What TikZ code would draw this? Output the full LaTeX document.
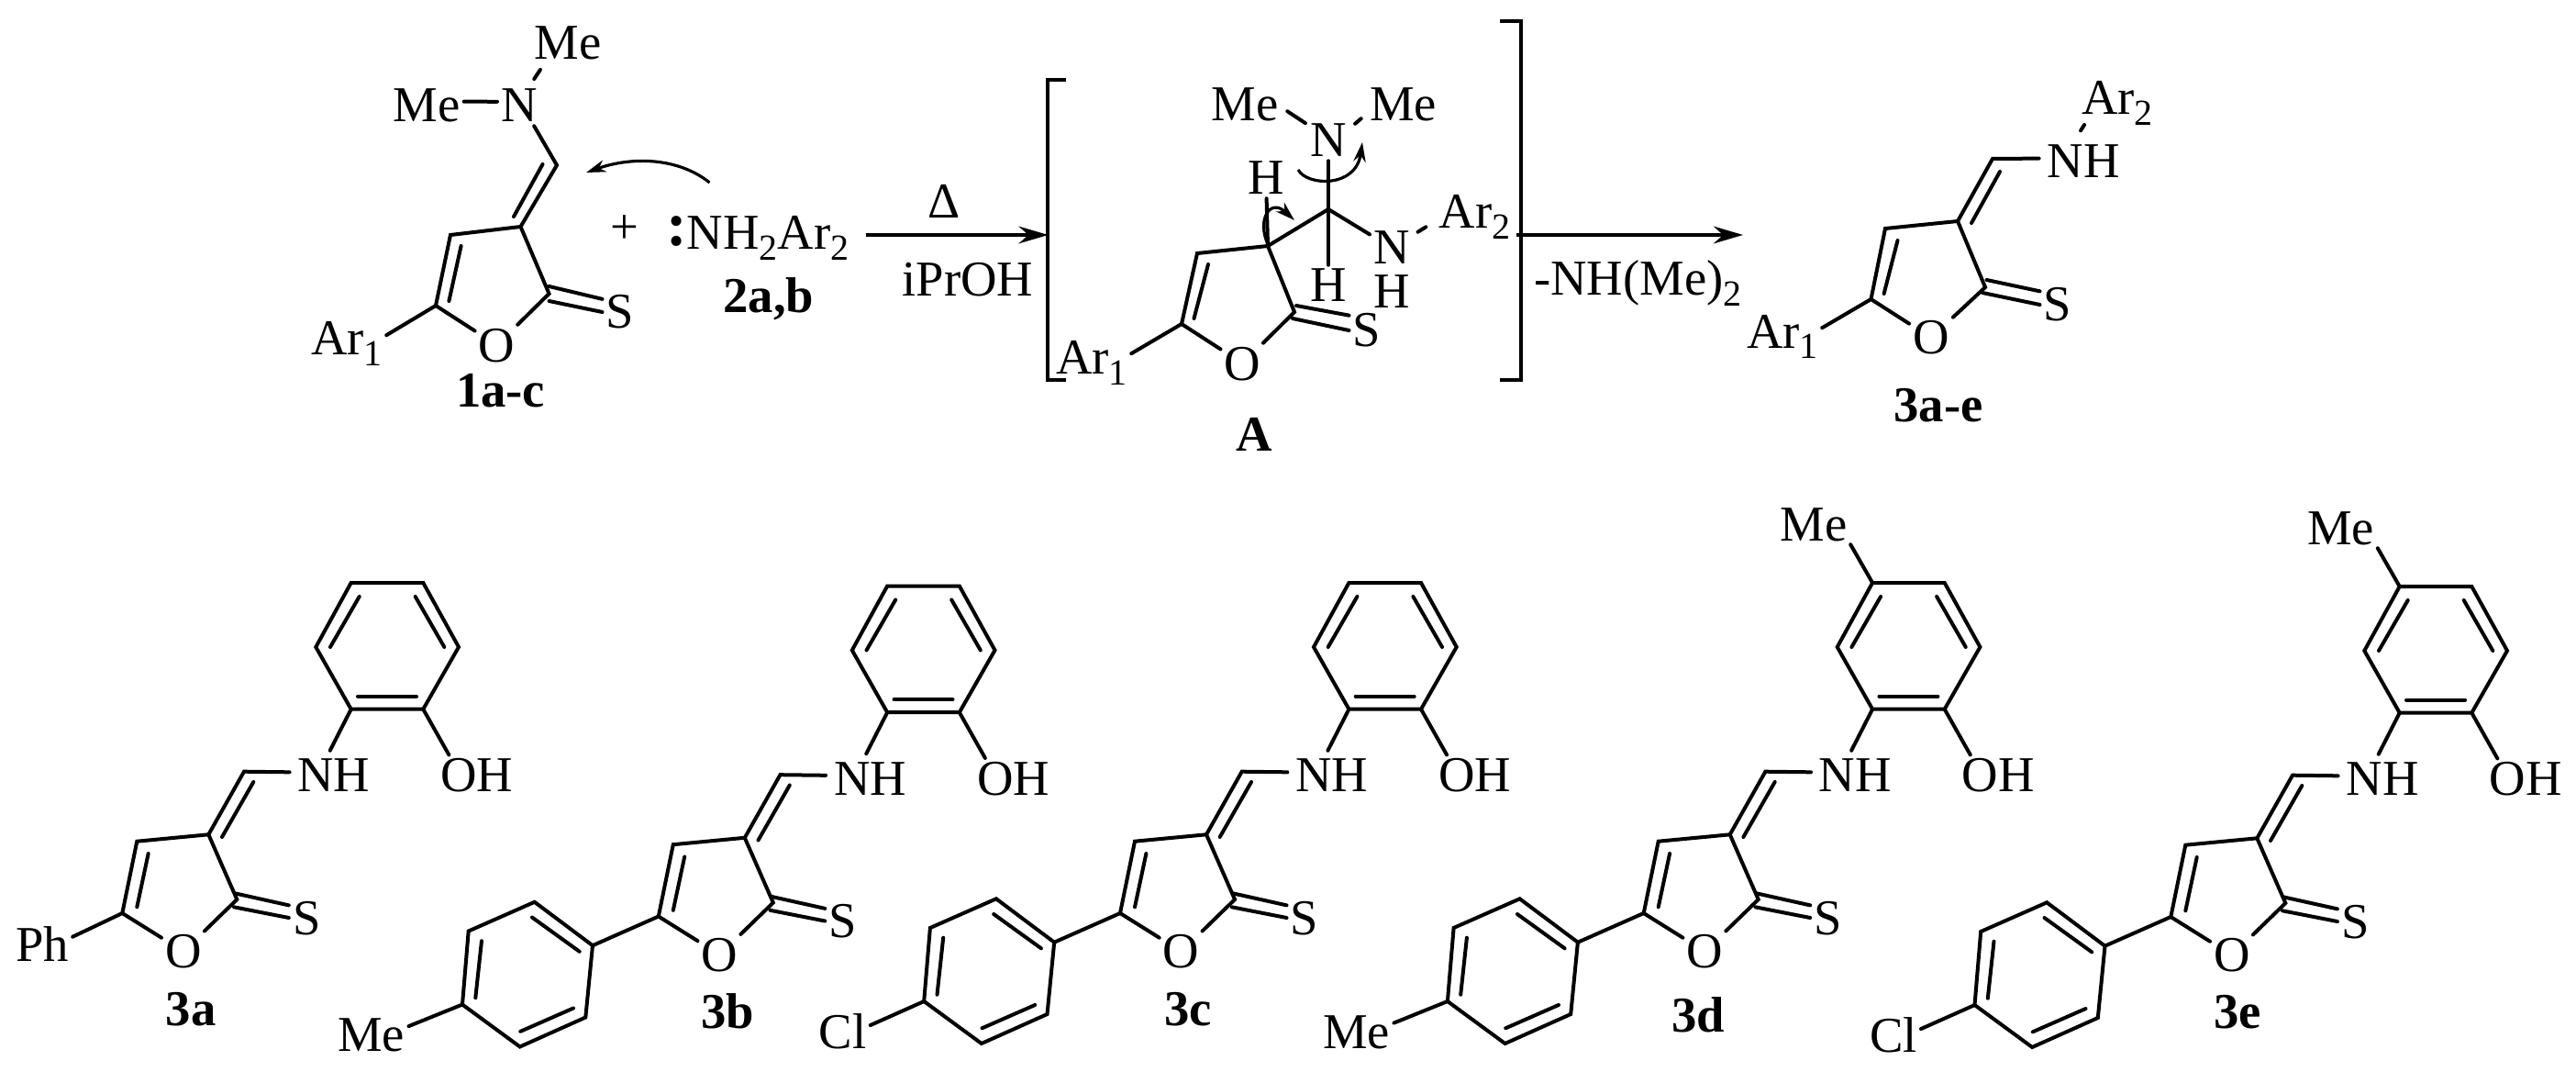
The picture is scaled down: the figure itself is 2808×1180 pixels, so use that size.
\documentclass[tikz,border=0pt]{standalone}
\usepackage{fontspec}
\setmainfont{Liberation Serif}
\usetikzlibrary{arrows.meta}
\newcommand{\atomfont}{\fontsize{41}{45}\selectfont}
\newcommand{\sbs}[1]{\raisebox{-9pt}{\fontsize{30}{30}\selectfont #1}}
\newcommand{\lonepair}{\raisebox{3pt}{\fontsize{51}{51}\selectfont\bfseries :}}
\tikzset{
  bond/.style={line width=3pt,line cap=round},
  atom/.style={font=\atomfont,inner sep=3pt,text height=27pt,text depth=0pt},
  amine/.style={atom,inner sep=6.5pt},
  txt/.style={font=\atomfont,inner sep=0pt,anchor=base},
  cmpd/.style={font=\atomfont\bfseries,inner sep=0pt,anchor=base},
  rxn/.style={line width=3pt,-{Stealth[length=24pt,width=14pt]}},
  curly/.style={line width=2.4pt,-{Stealth[length=16pt,width=10pt]}},
  %Shape: thione ring with the aminophenol arm
  furan/.pic={
    \coordinate (-c3) at (227.3,909.3);
    \coordinate (-ch) at (266,840.7);
    \coordinate (-c4) at (149.3,916.7);
    \coordinate (-c5) at (133.3,995);
    \coordinate (-c2) at (258.3,980);
    \coordinate (-c2a) at (256,973.3);
    \coordinate (-c2b) at (255,988.3);
    \coordinate (-ca) at (382.7,772.7);
    \coordinate (-cb) at (461.3,772.7);
    \coordinate (-cc) at (500,705);
    \coordinate (-cd) at (461.3,635);
    \coordinate (-ce) at (382.7,635);
    \coordinate (-cf) at (344.3,705);
    \node [atom] (-o) at (200,1036.7) {O};
    \node [atom] (-s) at (334.3,1000) {S};
    \node [amine] (-nh) at (364,844.7) {NH};
    \node [atom] (-oh) at (520,844.7) {OH};
    \draw [bond] (-o) -- (-c5) -- (-c4) -- (-c3) -- (-c2) -- (-o);
    \draw [bond] (161.7,930) -- (149.3,988.3);
    \draw [bond] (-c2a) -- (-s.145);
    \draw [bond] (-c2b) -- (-s.180);
    \draw [bond] (-c3) -- (-ch) -- (-nh.176);
    \draw [bond] (276.3,852) -- (242,912);
    \draw [bond] (-ca) -- (-cb) -- (-cc) -- (-cd) -- (-ce) -- (-cf) -- cycle;
    \draw [bond] (390,758.7) -- (454,758.7);
    \draw [bond] (360,705) -- (391.7,650);
    \draw [bond] (452.7,650) -- (484.3,705);
    \draw [bond] (-ca) -- (-nh.99);
    \draw [bond] (-cb) -- (-oh.144);
  },
  %Shape: para substituted aryl on C5
  arene/.pic={
    \coordinate (-i1) at (61.5,1026.7);
    \coordinate (-i2) at (-1.8,979.3);
    \coordinate (-i3) at (-73.8,1011);
    \coordinate (-i4) at (-80.5,1091);
    \coordinate (-i5) at (-17.8,1137);
    \coordinate (-i6) at (53.8,1105);
    \node [atom,anchor=east] (-sub) at (-139,1124) {#1};
    \draw [bond] (-c5) -- (-i1);
    \draw [bond] (-i1) -- (-i2) -- (-i3) -- (-i4) -- (-i5) -- (-i6) -- cycle;
    \draw [bond] (-4.5,996) -- (47.2,1033.3);
    \draw [bond] (-59.5,1021.7) -- (-66.2,1083.7);
    \draw [bond] (-17.2,1120.3) -- (40.5,1095);
    \draw [bond] (-i4) -- (-sub.13);
  },
  %Shape: methyl on the phenol ring
  tolyl/.pic={
    \node [atom] (-me) at (318.6,571) {Me};
    \draw [bond] (-ce) -- (-me.-29);
  },
}
\begin{document}
\begin{tikzpicture}[x=0.75pt,y=-0.75pt]
\useasboundingbox (0,0) rectangle (2808,1180);

%Compound 1
\coordinate (ch1) at (607,180);
\coordinate (c31) at (567.5,247);
\coordinate (c41) at (491,256);
\coordinate (c51) at (475,333);
\coordinate (c21) at (598.5,320);
\coordinate (c2a1) at (598.5,312);
\coordinate (c2b1) at (598.5,328);
\node [atom] (metop1) at (619,47) {Me};
\node [atom] (meleft1) at (465,115) {Me};
\node [atom] (n1) at (566,115) {N};
\node [atom] (o1) at (541.6,376) {O};
\node [atom] (s1) at (676,340) {S};
\node [atom,anchor=base west] (ar1) at (335,387) {Ar\sbs{1}};
\draw [bond] (meleft1.6) -- (n1.170);
\draw [bond,shorten <=6pt,shorten >=6pt] (n1.62) -- (metop1.221);
\draw [bond] (n1.-54) -- (ch1) -- (c31);
\draw [bond] (591.5,179) -- (560,236);
\draw [bond] (o1) -- (c51) -- (c41) -- (c31) -- (c21) -- (o1);
\draw [bond] (502.6,268) -- (489.4,328);
\draw [bond] (c2a1) -- (s1.144);
\draw [bond] (c2b1) -- (s1.180);
\draw [bond] (c51) -- (ar1.5);

%Curved arrow onto the vinyl carbon
\coordinate (att1) at (773.5,199);
\coordinate (att2) at (639,188);
\draw [curly] (att1) .. controls (740,172) and (690,170) .. (att2);

% Text Node
\node [txt] (plus) at (680.5,265.5) {+};
\node [atom,anchor=base west] (amine2) at (722,272) {\lonepair NH\sbs{2}Ar\sbs{2}};
\node [cmpd] (lab1) at (545.6,443) {1a-c};
\node [cmpd] (lab2) at (838,341) {2a,b};

%First reaction arrow
\coordinate (rx1a) at (943.5,256);
\coordinate (rx1b) at (1142.6,256);
\draw [rxn] (rx1a) -- (rx1b);
\node [txt] (delta) at (1029,238) {Δ};
\node [txt] (ipr) at (1055,322.7) {iPrOH};

%Brackets
\draw [bond,line cap=butt] (1162,87) -- (1142,87) -- (1142,414) -- (1162,414);
\draw [bond,line cap=butt] (1635,23) -- (1658,23) -- (1658,414) -- (1635,414);

%Intermediate A
\coordinate (c3a) at (1382,268);
\coordinate (c4a) at (1305,276);
\coordinate (c5a) at (1288,353);
\coordinate (c2aa) at (1411,340);
\coordinate (cha) at (1448,228);
\coordinate (c2ua) at (1413,333);
\coordinate (c2la) at (1409,347);
\node [atom] (meleft2) at (1357,114) {Me};
\node [atom] (meright2) at (1529.5,114) {Me};
\node [atom] (n2) at (1448,153) {N};
\node [atom] (htop) at (1380,194) {H};
\node [atom] (hbot) at (1448,311) {H};
\node [atom] (n3) at (1517,270) {N};
\node [atom] (hn3) at (1517,318) {H};
\node [atom,anchor=base west] (ar22) at (1564.5,249) {Ar\sbs{2}};
\node [atom] (o2) at (1354.5,396) {O};
\node [atom] (s2) at (1490,360) {S};
\node [atom,anchor=base west] (ar12) at (1147,407) {Ar\sbs{1}};
\draw [bond,shorten <=5pt,shorten >=1pt] (meleft2.-5) -- (n2.143);
\draw [bond,shorten <=5pt,shorten >=5pt] (n2.30) -- (meright2.195);
\draw [bond,shorten <=4pt,shorten >=9pt] (n3.31) -- (ar22.193);
\draw [bond] (n2) -- (hbot);
\draw [bond] (htop) -- (c3a);
\draw [bond] (c3a) -- (cha) -- (n3);
\draw [bond] (o2) -- (c5a) -- (c4a) -- (c3a) -- (c2aa) -- (o2);
\draw [bond] (1317,288) -- (1301.5,347);
\draw [bond] (c2ua) -- (s2.140);
\draw [bond] (c2la) -- (s2.180);
\draw [bond] (c5a) -- (ar12.5);
\coordinate (cur1a) at (1415,185);
\coordinate (cur1b) at (1485,155);
\draw [curly] (cur1a) .. controls (1425,203) and (1478,205) .. (cur1b);
\coordinate (cur2a) at (1382,266);
\coordinate (cur2b) at (1411,240);
\draw [curly] (cur2a) .. controls (1370,240) and (1384,215) .. (cur2b);
\node [cmpd] (laba) at (1367,491.7) {A};

%Second reaction arrow
\coordinate (rx2a) at (1653,256);
\coordinate (rx2b) at (1900,256);
\draw [rxn] (rx2a) -- (rx2b);
\node [txt,anchor=base west] (loss) at (1672,322) {-NH(Me)\sbs{2}};

%Product 3
\coordinate (ch3) at (2172,173);
\coordinate (c33) at (2134,241);
\coordinate (c43) at (2055,249);
\coordinate (c53) at (2039.5,326);
\coordinate (c23) at (2164,313);
\coordinate (c2u3) at (2165.5,305);
\coordinate (c2l3) at (2161,319);
\node [amine] (nh3) at (2271,176) {NH};
\node [atom,anchor=base west] (ar23) at (2265,125) {Ar\sbs{2}};
\node [atom] (o3) at (2105,368) {O};
\node [atom] (s3) at (2243,332) {S};
\node [atom,anchor=base west] (ar13) at (1900,379) {Ar\sbs{1}};
\draw [bond,shorten <=6pt,shorten >=6pt] (nh3.105) -- (ar23.215);
\draw [bond] (nh3.176) -- (ch3) -- (c33);
\draw [bond] (2180,187) -- (2149,243);
\draw [bond] (o3) -- (c53) -- (c43) -- (c33) -- (c23) -- (o3);
\draw [bond] (2068.5,262) -- (2053.6,320);
\draw [bond] (c2u3) -- (s3.143);
\draw [bond] (c2l3) -- (s3.180);
\draw [bond] (c53) -- (ar13.5);
\node [cmpd] (lab3) at (2113,459) {3a-e};

%Bottom row
\pic (a) at (0,0) {furan};
\node [atom] (ph) at (46,1029) {Ph};
\draw [bond] (a-c5) -- (ph.14);
\pic (b) at (584.5,3.5) {furan};
\pic (b) at (584.5,3.5) {arene=Me};
\pic (c) at (1087.7,0) {furan};
\pic (c) at (1087.7,0) {arene=Cl};
\pic (d) at (1658.4,0) {furan};
\pic (d) at (1658.4,0) {arene=Me};
\pic (d) at (1658.4,0) {tolyl};
\pic (e) at (2233,4) {furan};
\pic (e) at (2233,4) {arene=Cl};
\pic (e) at (2233,4) {tolyl};

% Text Node
\node [cmpd] (la) at (208,1117.5) {3a};
\node [cmpd] (lb) at (793.3,1120.7) {3b};
\node [cmpd] (lc) at (1295,1117.5) {3c};
\node [cmpd] (ld) at (1851,1124) {3d};
\node [cmpd] (le) at (2439.3,1120.7) {3e};

\end{tikzpicture}
\end{document}
